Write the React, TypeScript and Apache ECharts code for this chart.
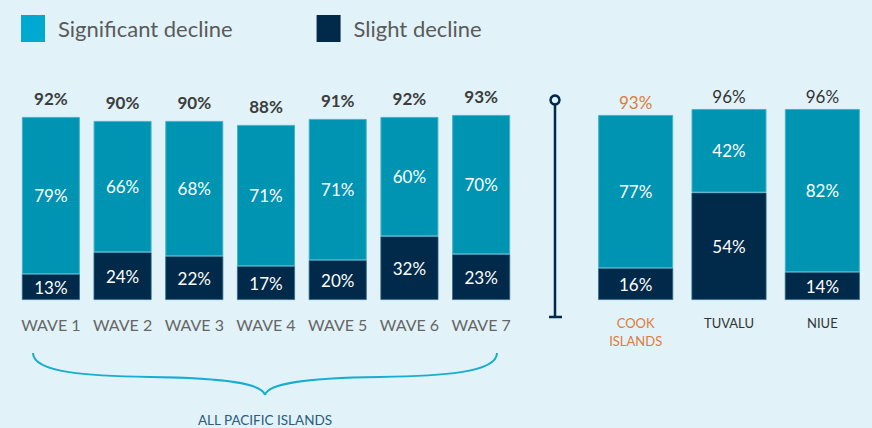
import React, { useEffect, useRef } from "react";
import * as echarts from "echarts";

const waveCategories = ["WAVE 1", "WAVE 2", "WAVE 3", "WAVE 4", "WAVE 5", "WAVE 6", "WAVE 7"];
const waveSignificant = [79, 66, 68, 71, 71, 60, 70];
const waveSlight = [13, 24, 22, 17, 20, 32, 23];
const waveTotals = [92, 90, 90, 88, 91, 92, 93];

const islandCategories = ["COOK\nISLANDS", "TUVALU", "NIUE"];
const islandSignificant = [77, 42, 82];
const islandSlight = [16, 54, 14];
const islandTotals = [93, 96, 96];

const legendNames = ["Significant decline", "Slight decline"];
const groupLabel = "ALL PACIFIC ISLANDS";

const C_SIG = "#0094b3";
const C_SIG_LEGEND = "#00a9cf";
const C_SLIGHT = "#012a4a";
const C_BG = "#e1f2f8";
const C_ORANGE = "#e07b39";
const FONT = "Lato, 'Open Sans', sans-serif";

export default function App() {
  const ref = useRef<HTMLDivElement>(null);

  useEffect(() => {
    document.body.style.margin = "0";
    if (!ref.current) return;
    const chart = echarts.init(ref.current, null, { renderer: "svg" });

    const insideLabel = {
      show: true,
      position: "inside",
      color: "#ffffff",
      fontSize: 17,
      fontFamily: FONT,
      formatter: (p: any) => p.value + "%",
    };

    const option: any = {
      animation: false,
      backgroundColor: C_BG,
      textStyle: { fontFamily: FONT },
      legend: {
        left: 16,
        top: 10,
        itemWidth: 24,
        itemHeight: 27,
        itemGap: 84,
        icon: "rect",
        selectedMode: false,
        textStyle: { fontSize: 22, color: "#5a5a5a", fontFamily: FONT, padding: [0, 0, 0, 8] },
        data: [
          { name: legendNames[0], itemStyle: { color: C_SIG_LEGEND, borderWidth: 0 } },
          { name: legendNames[1], itemStyle: { color: C_SLIGHT, borderWidth: 0 } },
        ],
      },
      grid: [
        { left: 15, width: 502, top: 101, height: 199 },
        { left: 589, width: 280, top: 101, height: 199 },
      ],
      xAxis: [
        {
          type: "category",
          gridIndex: 0,
          data: waveCategories,
          axisLine: { show: false },
          axisTick: { show: false },
          axisLabel: { interval: 0, color: "#666666", fontSize: 16, fontFamily: FONT, margin: 16 },
        },
        {
          type: "category",
          gridIndex: 1,
          data: islandCategories.map((c, i) =>
            i === 0 ? { value: c, textStyle: { color: C_ORANGE } } : c
          ),
          axisLine: { show: false },
          axisTick: { show: false },
          axisLabel: {
            interval: 0,
            fontSize: 13,
            fontFamily: FONT,
            margin: 14,
            lineHeight: 18,
            verticalAlign: "top",
            color: "#333333",
          },
        },
      ],
      yAxis: [
        { type: "value", gridIndex: 0, min: 0, max: 100, show: false },
        { type: "value", gridIndex: 1, min: 0, max: 100, show: false },
      ],
      series: [
        {
          name: legendNames[1],
          type: "bar",
          stack: "w",
          xAxisIndex: 0,
          yAxisIndex: 0,
          barWidth: 58,
          data: waveSlight,
          itemStyle: { color: C_SLIGHT, borderColor: "#2f6a8a", borderWidth: 0.8 },
          label: insideLabel,
        },
        {
          name: legendNames[0],
          type: "bar",
          stack: "w",
          xAxisIndex: 0,
          yAxisIndex: 0,
          barWidth: 58,
          data: waveSignificant,
          itemStyle: { color: C_SIG, borderColor: "#45b3cc", borderWidth: 1 },
          label: insideLabel,
        },
        {
          name: "total-waves",
          type: "bar",
          stack: "w",
          xAxisIndex: 0,
          yAxisIndex: 0,
          barWidth: 58,
          data: waveTotals.map(() => 0),
          itemStyle: { color: "transparent" },
          label: {
            show: true,
            position: "top",
            distance: 10,
            color: "#3d3d3d",
            fontWeight: "bold",
            fontSize: 17,
            fontFamily: FONT,
            formatter: (p: any) => waveTotals[p.dataIndex] + "%",
          },
        },
        {
          name: legendNames[1],
          type: "bar",
          stack: "i",
          xAxisIndex: 1,
          yAxisIndex: 1,
          barWidth: 75,
          data: islandSlight,
          itemStyle: { color: C_SLIGHT, borderColor: "#2f6a8a", borderWidth: 0.8 },
          label: insideLabel,
        },
        {
          name: legendNames[0],
          type: "bar",
          stack: "i",
          xAxisIndex: 1,
          yAxisIndex: 1,
          barWidth: 75,
          data: islandSignificant,
          itemStyle: { color: C_SIG, borderColor: "#45b3cc", borderWidth: 1 },
          label: insideLabel,
        },
        {
          name: "total-islands",
          type: "bar",
          stack: "i",
          xAxisIndex: 1,
          yAxisIndex: 1,
          barWidth: 75,
          data: islandTotals.map((t, i) => ({
            value: 0,
            label: { color: i === 0 ? C_ORANGE : "#333333" },
          })),
          itemStyle: { color: "transparent" },
          label: {
            show: true,
            position: "top",
            distance: 4,
            fontSize: 17,
            fontFamily: FONT,
            color: "#333333",
            formatter: (p: any) => islandTotals[p.dataIndex] + "%",
          },
        },
      ],
      graphic: [
        {
          type: "line",
          shape: { x1: 555, y1: 105, x2: 555, y2: 317 },
          style: { stroke: C_SLIGHT, lineWidth: 2.5 },
        },
        {
          type: "circle",
          shape: { cx: 555, cy: 100, r: 4.5 },
          style: { stroke: C_SLIGHT, lineWidth: 2.5, fill: C_BG },
        },
        {
          type: "line",
          shape: { x1: 549, y1: 317, x2: 562, y2: 317 },
          style: { stroke: C_SLIGHT, lineWidth: 2.5 },
        },
        {
          type: "bezierCurve",
          shape: { x1: 33, y1: 353, cpx1: 33, cpy1: 373, cpx2: 90, cpy2: 376, x2: 150, y2: 377 },
          style: { stroke: "#19add0", lineWidth: 2, fill: "none" },
        },
        {
          type: "bezierCurve",
          shape: { x1: 150, y1: 377, cpx1: 230, cpx2: 262, cpy1: 378, cpy2: 384, x2: 265, y2: 395 },
          style: { stroke: "#19add0", lineWidth: 2, fill: "none" },
        },
        {
          type: "bezierCurve",
          shape: { x1: 497, y1: 353, cpx1: 497, cpy1: 373, cpx2: 440, cpy2: 376, x2: 380, y2: 377 },
          style: { stroke: "#19add0", lineWidth: 2, fill: "none" },
        },
        {
          type: "bezierCurve",
          shape: { x1: 380, y1: 377, cpx1: 300, cpx2: 268, cpy1: 378, cpy2: 384, x2: 265, y2: 395 },
          style: { stroke: "#19add0", lineWidth: 2, fill: "none" },
        },
        {
          type: "text",
          x: 265,
          y: 420,
          style: {
            text: groupLabel,
            fill: "#2a5d7c",
            fontSize: 13.5,
            fontFamily: FONT,
            align: "center",
            verticalAlign: "middle",
          },
        },
      ],
    };

    chart.setOption(option);
    return () => chart.dispose();
  }, []);

  return (
    <div
      ref={ref}
      style={{ position: "fixed", left: 0, top: 0, width: 872, height: 428 }}
    />
  );
}
